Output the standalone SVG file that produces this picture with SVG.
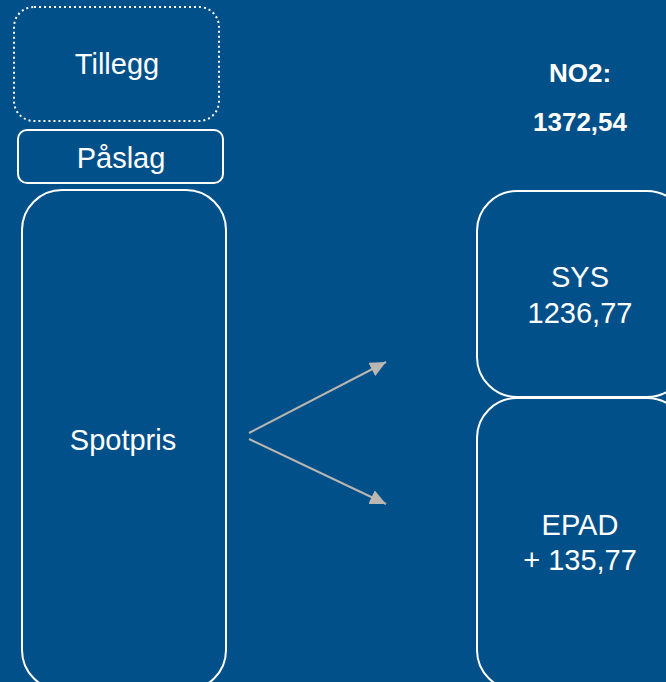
<svg xmlns="http://www.w3.org/2000/svg" width="666" height="682" viewBox="0 0 666 682">
<style>
.box{fill:#025089;stroke:#ffffff;stroke-width:2}
.t{font-family:"Liberation Sans",Arial,sans-serif;font-size:29px;fill:#ffffff;text-anchor:middle}
.b{font-family:"Liberation Sans",Arial,sans-serif;font-size:26px;font-weight:bold;fill:#ffffff;text-anchor:middle}
.arr{stroke:#bab6b2;stroke-width:2;fill:none;marker-end:url(#ah)}
</style>
<defs>
<marker id="ah" markerWidth="16" markerHeight="15" refX="16" refY="7.5" orient="auto" markerUnits="userSpaceOnUse" viewBox="0 0 16 15">
<path d="M0,0 L16,7.5 L0,15 Z" fill="#bab6b2"/>
</marker>
</defs>
<rect width="666" height="682" fill="#025089"/>
<g id="tillegg">
<rect class="box" x="14" y="7" width="205" height="114" rx="20" ry="20" stroke-dasharray="2,3"/>
<text class="t" x="117" y="74">Tillegg</text>
</g>
<g id="paaslag">
<rect class="box" x="18" y="130" width="205" height="53" rx="9" ry="9"/>
<text class="t" x="121" y="168">Påslag</text>
</g>
<g id="spotpris">
<rect class="box" x="22" y="190" width="204" height="500" rx="40" ry="40"/>
<text class="t" x="123" y="450">Spotpris</text>
</g>
<g id="sys">
<rect class="box" x="477" y="191" width="210" height="206" rx="40" ry="40"/>
<text class="t" x="580" y="287">SYS</text>
<text class="t" x="580" y="323">1236,77</text>
</g>
<g id="epad">
<rect class="box" x="477" y="398" width="210" height="292" rx="40" ry="40"/>
<text class="t" x="580" y="535">EPAD</text>
<text class="t" x="580" y="570">+ 135,77</text>
</g>
<g id="no2">
<text class="b" x="580" y="82">NO2:</text>
<text class="b" x="580" y="131">1372,54</text>
</g>
<g id="connectors">
<path class="arr" d="M249,433 L386,362"/>
<path class="arr" d="M249,439 L386,504"/>
</g>
</svg>
